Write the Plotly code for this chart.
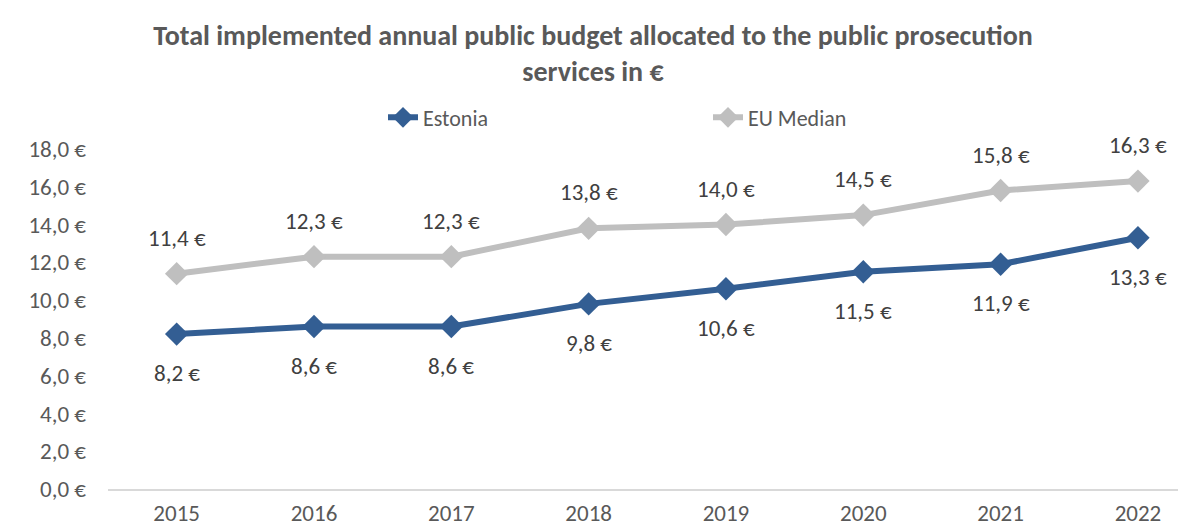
import plotly.graph_objects as go

years = ["2015", "2016", "2017", "2018", "2019", "2020", "2021", "2022"]
estonia = [8.2, 8.6, 8.6, 9.8, 10.6, 11.5, 11.9, 13.3]
eu_median = [11.4, 12.3, 12.3, 13.8, 14.0, 14.5, 15.8, 16.3]
y_tickvals = [0, 2, 4, 6, 8, 10, 12, 14, 16, 18]
y_ticktext = ["0,0 €", "2,0 €", "4,0 €", "6,0 €", "8,0 €", "10,0 €", "12,0 €", "14,0 €", "16,0 €", "18,0 €"]

FONT = "Calibri, Carlito, Lato, sans-serif"
BLUE = "#335E93"
GREY = "#BFBFBF"

def fmt(v):
    return f"{v:.1f}".replace(".", ",") + " €"

fig = go.Figure()
fig.add_trace(go.Scatter(
    x=years, y=estonia, name="Estonia", mode="lines+markers",
    line=dict(color=BLUE, width=6), marker=dict(symbol="diamond", size=18, color=BLUE),
))
fig.add_trace(go.Scatter(
    x=years, y=eu_median, name="EU Median", mode="lines+markers",
    line=dict(color=GREY, width=6), marker=dict(symbol="diamond", size=18, color=GREY),
))

for i, v in enumerate(estonia):
    fig.add_annotation(x=i, y=v, text=fmt(v), showarrow=False, yshift=-39,
                       font=dict(family=FONT, size=23, color="#404040"))
for i, v in enumerate(eu_median):
    fig.add_annotation(x=i, y=v, text=fmt(v), showarrow=False, yshift=36,
                       font=dict(family=FONT, size=23, color="#404040"))

fig.update_layout(
    width=1186, height=527,
    margin=dict(l=100, r=8, t=140.5, b=46, autoexpand=False),
    paper_bgcolor="white", plot_bgcolor="white",
    font=dict(family=FONT, color="#595959"),
    title=dict(
        text="<b>Total implemented annual public budget allocated to the public prosecution<br>services in €</b>",
        x=585/1186, xanchor="center", xref="container", y=1 - 37/527, yanchor="top",
        font=dict(family=FONT, size=28, color="#595959"),
    ),
    legend=dict(
        orientation="h", x=275/1078, xanchor="left", xref="paper",
        y=1.0925, yanchor="middle",
        entrywidth=280, entrywidthmode="pixels",
        font=dict(family=FONT, size=22, color="#595959"),
        bgcolor="rgba(0,0,0,0)",
    ),
    xaxis=dict(
        type="category", range=[-0.5, 7.35],
        showgrid=False, showline=True, linecolor="#D9D9D9", linewidth=1.5,
        ticks="", ticklabelstandoff=3,
        tickfont=dict(family=FONT, size=23, color="#595959"),
        zeroline=False,
    ),
    yaxis=dict(
        range=[0, 18], tickvals=y_tickvals, ticktext=y_ticktext,
        showgrid=False, showline=False, zeroline=False, ticks="",
        ticklabelstandoff=21,
        tickfont=dict(family=FONT, size=23, color="#595959"),
    ),
)

fig.write_html("out.html")
